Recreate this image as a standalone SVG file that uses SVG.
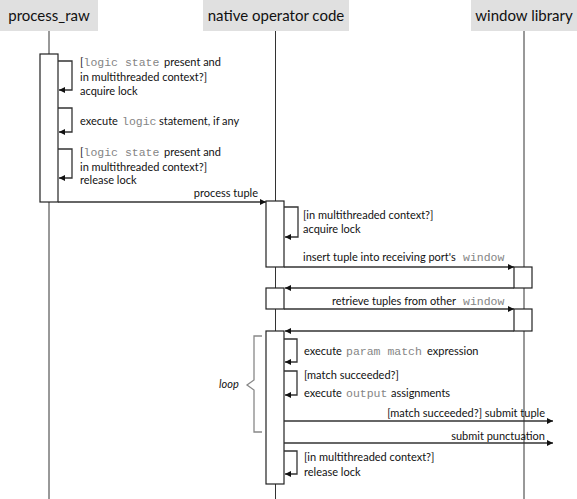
<svg xmlns="http://www.w3.org/2000/svg" width="577" height="499" viewBox="0 0 577 499">
<style>
.hdr{fill:#e0e0e0}
.ht{font-family:Lato,"Liberation Sans",sans-serif;font-size:15px;fill:#111}
.t{font-family:Lato,"Liberation Sans",sans-serif;font-size:11px;fill:#111}
.m{font-family:"Liberation Mono",monospace;font-size:11.5px;fill:#858585}
.life{stroke:#333;stroke-width:1}
.act{fill:#fff;stroke:#222;stroke-width:1.2}
.msg{fill:none;stroke:#333;stroke-width:1.3}
.brace{fill:none;stroke:#888;stroke-width:1.3}
</style>
<defs>
<marker id="ah" viewBox="0 0 6 6" refX="6" refY="3" markerWidth="6" markerHeight="6" markerUnits="userSpaceOnUse" orient="auto">
<path d="M0,0 L6,3 L0,6 z" fill="#111"/>
</marker>
</defs>
<g id="lifelines">
<line class="life" x1="49" y1="31" x2="49" y2="499"/>
<line class="life" x1="275.5" y1="31" x2="275.5" y2="499"/>
<line class="life" x1="524" y1="31" x2="524" y2="499"/>
</g>
<g id="process_raw">
<rect class="hdr" x="0" y="0" width="98" height="31"/>
<text class="ht" x="49" y="21" text-anchor="middle">process_raw</text>
<rect class="act" x="40" y="54" width="18" height="148"/>
</g>
<g id="native_operator_code">
<rect class="hdr" x="203" y="0" width="146" height="31"/>
<text class="ht" x="276" y="21" text-anchor="middle">native operator code</text>
<rect class="act" x="266" y="201" width="18" height="66"/>
<rect class="act" x="266" y="288" width="18" height="21"/>
<rect class="act" x="266" y="331" width="18" height="153"/>
</g>
<g id="window_library">
<rect class="hdr" x="471" y="0" width="106" height="31"/>
<text class="ht" x="524" y="21" text-anchor="middle">window library</text>
<rect class="act" x="514" y="267" width="18" height="21"/>
<rect class="act" x="514" y="309" width="18" height="22"/>
</g>
<g id="loop">
<path class="brace" d="M262,336 H254 V380 L247,385 L254,390 V432 H262"/>
<text class="t" x="219" y="388" font-style="italic">loop</text>
</g>
<g id="connectors">
<path class="msg" d="M58,61 H72 V90 H59" marker-end="url(#ah)"/>
<path class="msg" d="M58,108 H72 V132 H59" marker-end="url(#ah)"/>
<path class="msg" d="M58,149 H72 V178 H59" marker-end="url(#ah)"/>
<path class="msg" d="M58,202 H266" marker-end="url(#ah)"/>
<path class="msg" d="M284,207 H298 V237 H285" marker-end="url(#ah)"/>
<path class="msg" d="M284,267 H514" marker-end="url(#ah)"/>
<path class="msg" d="M514,288 H285" marker-end="url(#ah)"/>
<path class="msg" d="M284,309 H514" marker-end="url(#ah)"/>
<path class="msg" d="M514,331 H285" marker-end="url(#ah)"/>
<path class="msg" d="M284,339 H297 V362 H285" marker-end="url(#ah)"/>
<path class="msg" d="M284,371 H297 V395 H285" marker-end="url(#ah)"/>
<path class="msg" d="M284,421 H553" marker-end="url(#ah)"/>
<path class="msg" d="M284,443 H553" marker-end="url(#ah)"/>
<path class="msg" d="M284,451 H297 V474 H285" marker-end="url(#ah)"/>
</g>
<g id="labels">
<text class="t" x="80" y="66">[<tspan class="m" x="83.5">logic state</tspan><tspan x="164">present and</tspan></text>
<text class="t" x="80" y="81">in multithreaded context?]</text>
<text class="t" x="80" y="95">acquire lock</text>
<text class="t" x="80" y="125">execute<tspan class="m" x="122">logic</tspan><tspan x="159">statement, if any</tspan></text>
<text class="t" x="80" y="156">[<tspan class="m" x="83.5">logic state</tspan><tspan x="164">present and</tspan></text>
<text class="t" x="80" y="170.5">in multithreaded context?]</text>
<text class="t" x="80" y="184">release lock</text>
<text class="t" x="258" y="197" text-anchor="end">process tuple</text>
<text class="t" x="303" y="219">[in multithreaded context?]</text>
<text class="t" x="303" y="233">acquire lock</text>
<text class="t" x="303" y="261">insert tuple into receiving port's<tspan class="m" x="463">window</tspan></text>
<text class="t" x="332" y="305">retrieve tuples from other<tspan class="m" x="463">window</tspan></text>
<text class="t" x="304" y="355">execute<tspan class="m" x="346">param match</tspan><tspan x="427">expression</tspan></text>
<text class="t" x="304" y="379">[match succeeded?]</text>
<text class="t" x="304" y="397">execute<tspan class="m" x="346">output</tspan><tspan x="391">assignments</tspan></text>
<text class="t" x="545" y="417" text-anchor="end">[match succeeded?] submit tuple</text>
<text class="t" x="545" y="440" text-anchor="end">submit punctuation</text>
<text class="t" x="304" y="461">[in multithreaded context?]</text>
<text class="t" x="304" y="476">release lock</text>
</g>
</svg>
